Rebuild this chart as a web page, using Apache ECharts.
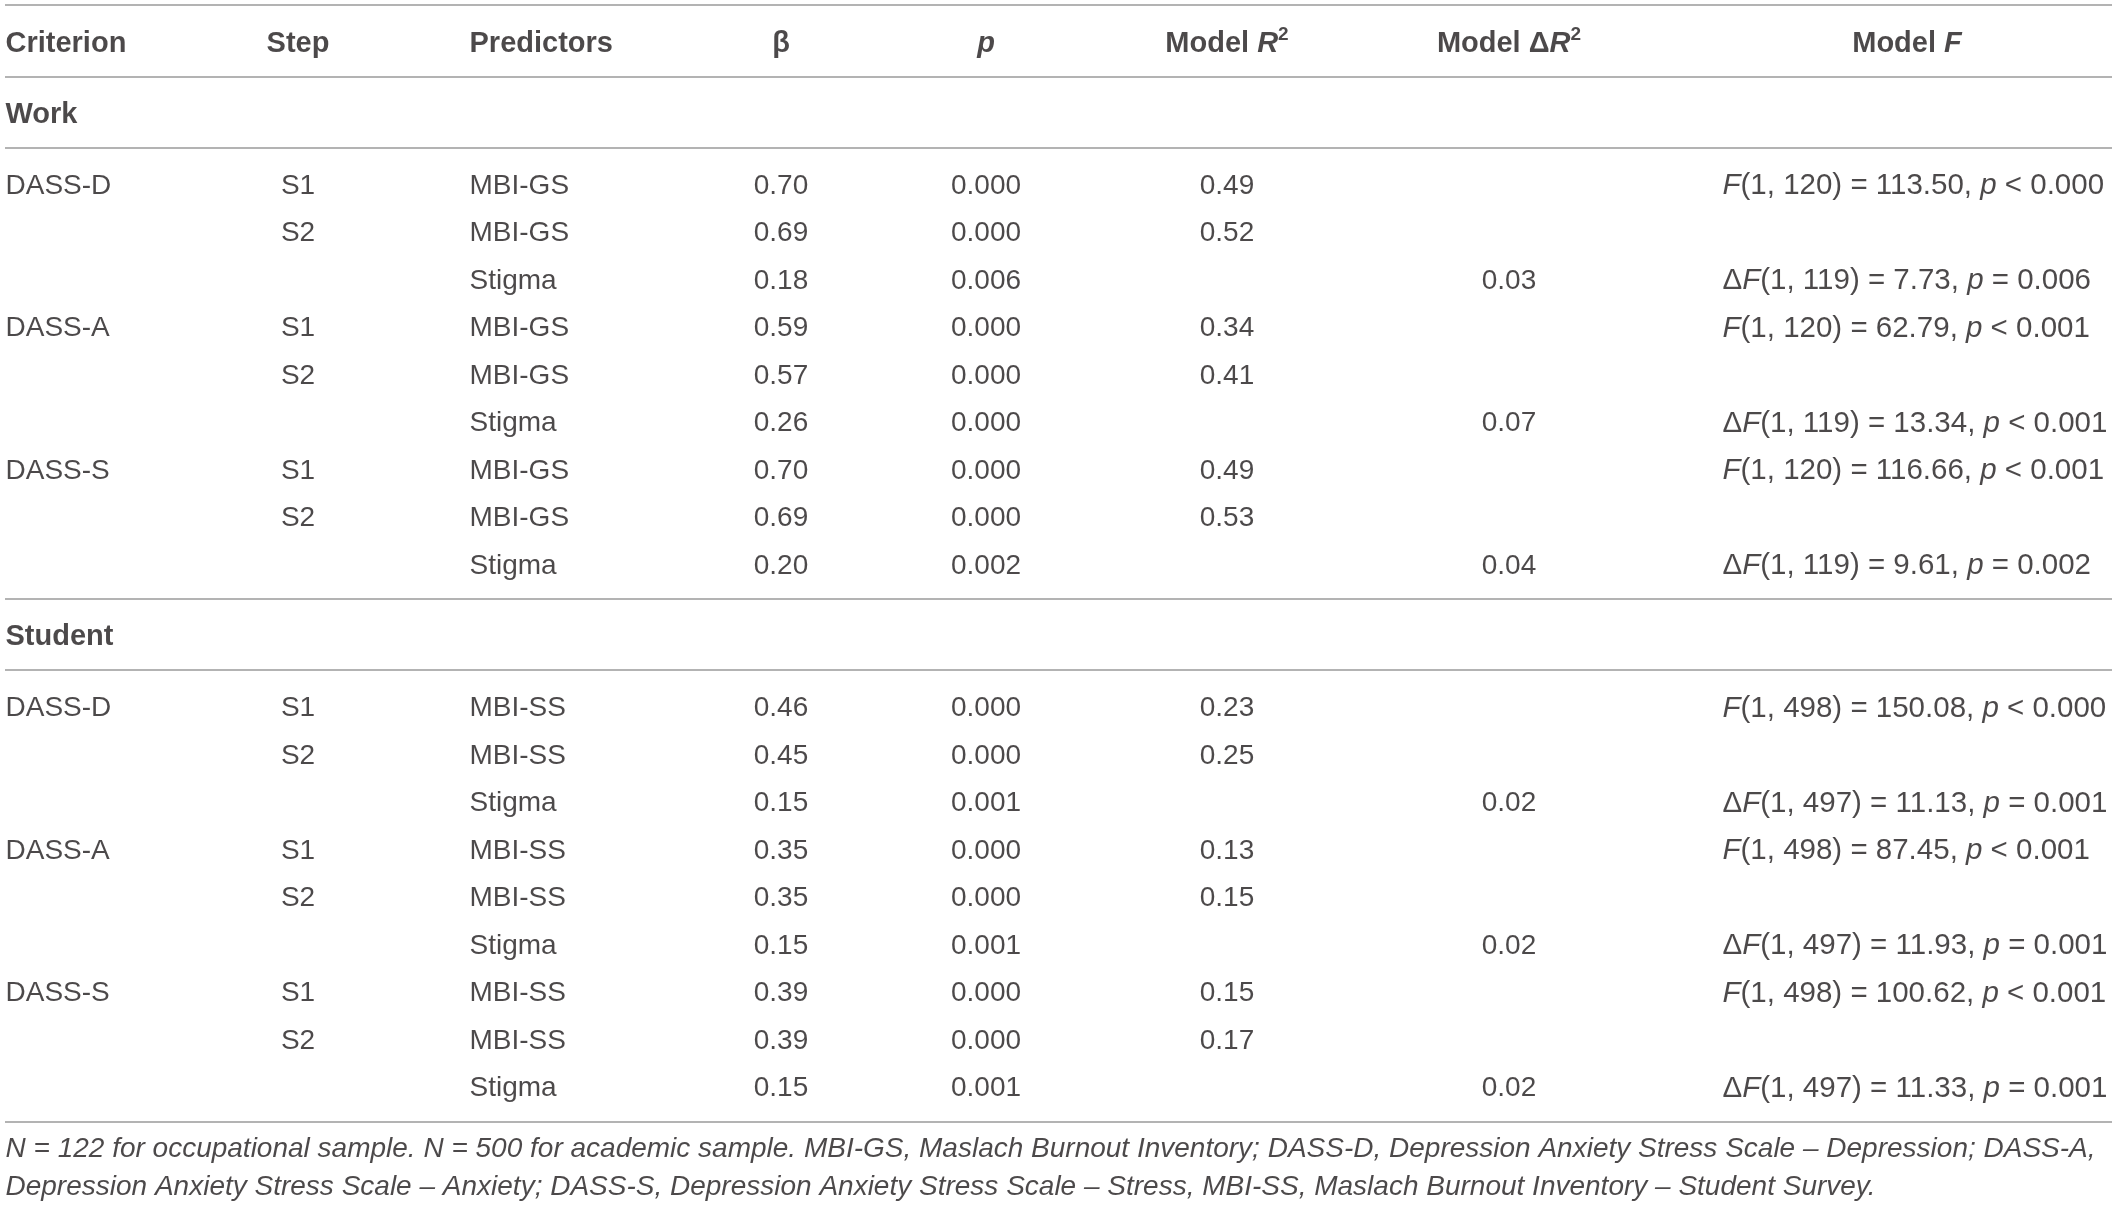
<!DOCTYPE html>
<html>
<head>
<meta charset="utf-8">
<script src="https://cdn.jsdelivr.net/npm/echarts@6/dist/echarts.min.js"></script>
<style>
html,body{margin:0;padding:0;background:#fff;}
#chart{width:2117px;height:1205px;}
</style>
</head>
<body>
<div id="chart"></div>
<script>
// ---------------- DATA ----------------
const headers = ['Criterion', 'Step', 'Predictors', 'β', 'p', 'Model R2', 'Model ΔR2', 'Model F'];
const groups = ['Work', 'Student'];

const workCriterion = ['DASS-D', '', '', 'DASS-A', '', '', 'DASS-S', '', ''];
const workStep = ['S1', 'S2', '', 'S1', 'S2', '', 'S1', 'S2', ''];
const workPredictor = ['MBI-GS', 'MBI-GS', 'Stigma', 'MBI-GS', 'MBI-GS', 'Stigma', 'MBI-GS', 'MBI-GS', 'Stigma'];
const workBeta = [0.70, 0.69, 0.18, 0.59, 0.57, 0.26, 0.70, 0.69, 0.20];
const workP = [0.000, 0.000, 0.006, 0.000, 0.000, 0.000, 0.000, 0.000, 0.002];
const workR2 = [0.49, 0.52, null, 0.34, 0.41, null, 0.49, 0.53, null];
const workDeltaR2 = [null, null, 0.03, null, null, 0.07, null, null, 0.04];
const workF = [
  'F(1, 120) = 113.50, p < 0.000', '', 'ΔF(1, 119) = 7.73, p = 0.006',
  'F(1, 120) = 62.79, p < 0.001', '', 'ΔF(1, 119) = 13.34, p < 0.001',
  'F(1, 120) = 116.66, p < 0.001', '', 'ΔF(1, 119) = 9.61, p = 0.002'
];

const studentCriterion = ['DASS-D', '', '', 'DASS-A', '', '', 'DASS-S', '', ''];
const studentStep = ['S1', 'S2', '', 'S1', 'S2', '', 'S1', 'S2', ''];
const studentPredictor = ['MBI-SS', 'MBI-SS', 'Stigma', 'MBI-SS', 'MBI-SS', 'Stigma', 'MBI-SS', 'MBI-SS', 'Stigma'];
const studentBeta = [0.46, 0.45, 0.15, 0.35, 0.35, 0.15, 0.39, 0.39, 0.15];
const studentP = [0.000, 0.000, 0.001, 0.000, 0.000, 0.001, 0.000, 0.000, 0.001];
const studentR2 = [0.23, 0.25, null, 0.13, 0.15, null, 0.15, 0.17, null];
const studentDeltaR2 = [null, null, 0.02, null, null, 0.02, null, null, 0.02];
const studentF = [
  'F(1, 498) = 150.08, p < 0.000', '', 'ΔF(1, 497) = 11.13, p = 0.001',
  'F(1, 498) = 87.45, p < 0.001', '', 'ΔF(1, 497) = 11.93, p = 0.001',
  'F(1, 498) = 100.62, p < 0.001', '', 'ΔF(1, 497) = 11.33, p = 0.001'
];

const footnoteLines = [
  'N = 122 for occupational sample. N = 500 for academic sample. MBI-GS, Maslach Burnout Inventory; DASS-D, Depression Anxiety Stress Scale – Depression; DASS-A,',
  'Depression Anxiety Stress Scale – Anxiety; DASS-S, Depression Anxiety Stress Scale – Stress, MBI-SS, Maslach Burnout Inventory – Student Survey.'
];

// ---------------- LAYOUT ----------------
const COL = { crit: 0, step: 293, pred: 464, beta: 776, p: 981, r2: 1222, dr2: 1504, fHead: 1902, f: 1717 };
const HALF_GAP = 0.75;
const TEXT = '#1f1c1d';
const RULE = '#b3b3b3';
const FONT = '"Liberation Sans", Arial, Helvetica, sans-serif';
const TEXT_SHIFT = 3;

const groupData = [
  { name: groups[0], crit: workCriterion, step: workStep, pred: workPredictor, beta: workBeta, p: workP, r2: workR2, dr2: workDeltaR2, f: workF },
  { name: groups[1], crit: studentCriterion, step: studentStep, pred: studentPredictor, beta: studentBeta, p: studentP, r2: studentR2, dr2: studentDeltaR2, f: studentF }
];

// y positions (row units) derived from the table structure
const rules = [];
let y = 0;
rules.push(y);
y += HALF_GAP;
const headerY = y;
y += HALF_GAP; rules.push(y);
const groupRows = [];
groupData.forEach(g => {
  y += HALF_GAP;
  const gy = y;
  y += HALF_GAP; rules.push(y);
  y += HALF_GAP;
  const rowsY = [];
  for (let i = 0; i < g.crit.length; i++) { rowsY.push(y); if (i < g.crit.length - 1) y += 1; }
  y += HALF_GAP; rules.push(y);
  groupRows.push({ gy, rowsY });
});
const footY = [y + 0.53, y + 1.33];

// ---------------- SERIES DATA ----------------
const sLeftBody = [], sCenterBody = [], sFBody = [], sBold = [], sHeadCenter = [], sFoot = [];
sBold.push([COL.crit, headerY, '{b|' + headers[0] + '}']);
sHeadCenter.push([COL.step, headerY, '{b|' + headers[1] + '}']);
sBold.push([COL.pred, headerY, '{b|' + headers[2] + '}']);
sHeadCenter.push([COL.beta, headerY, '{b|' + headers[3] + '}']);
sHeadCenter.push([COL.p, headerY, '{bi|' + headers[4] + '}']);
sHeadCenter.push([COL.r2, headerY, '{b|Model }{bi|R}{sup|2}']);
sHeadCenter.push([COL.dr2, headerY, '{b|Model Δ}{bi|R}{sup|2}']);
sHeadCenter.push([COL.fHead, headerY, '{b|Model }{bi|F}']);

function richF(s) {
  const m = s.match(/^(Δ?)F(.*), p (.*)$/);
  return (m[1] ? '{n|Δ}' : '') + '{i|F}{n|' + m[2] + ', }{i|p}{n| ' + m[3] + '}';
}

groupData.forEach((g, gi) => {
  const gr = groupRows[gi];
  sBold.push([COL.crit, gr.gy, '{b|' + g.name + '}']);
  g.crit.forEach((c, i) => {
    const ry = gr.rowsY[i];
    if (c) sLeftBody.push([COL.crit, ry, c]);
    if (g.step[i]) sCenterBody.push([COL.step, ry, g.step[i]]);
    sLeftBody.push([COL.pred, ry, g.pred[i]]);
    sCenterBody.push([COL.beta, ry, g.beta[i].toFixed(2)]);
    sCenterBody.push([COL.p, ry, g.p[i].toFixed(3)]);
    if (g.r2[i] !== null) sCenterBody.push([COL.r2, ry, g.r2[i].toFixed(2)]);
    if (g.dr2[i] !== null) sCenterBody.push([COL.dr2, ry, g.dr2[i].toFixed(2)]);
    if (g.f[i]) sFBody.push([COL.f, ry, richF(g.f[i])]);
  });
});
footnoteLines.forEach((t, i) => sFoot.push([0, footY[i], t]));

const HB = 29, FB = 29.5;
const rich = {
  b: { fontFamily: FONT, fontSize: HB, fontWeight: 'bold', color: TEXT, lineHeight: 36, verticalAlign: 'middle' },
  bi: { fontFamily: FONT, fontSize: HB, fontWeight: 'bold', fontStyle: 'italic', color: TEXT, lineHeight: 36, verticalAlign: 'middle' },
  sup: { fontFamily: FONT, fontSize: 19, fontWeight: 'bold', color: TEXT, lineHeight: 36, verticalAlign: 'top', padding: [0, 0, 12, 0] },
  n: { fontFamily: FONT, fontSize: FB, color: TEXT, lineHeight: 36 },
  i: { fontFamily: FONT, fontSize: FB, fontStyle: 'italic', color: TEXT, lineHeight: 36 }
};

function textSeries(name, data, position, labelExtra) {
  return {
    name, type: 'scatter', data, symbolSize: 1, silent: true,
    itemStyle: { color: 'rgba(0,0,0,0)' },
    label: Object.assign({
      show: true, position, distance: 0, offset: [0, TEXT_SHIFT],
      formatter: p => p.data[2],
      fontFamily: FONT, fontSize: 28, color: TEXT, rich
    }, labelExtra || {})
  };
}

const chart = echarts.init(document.getElementById('chart'), null, { renderer: 'canvas' });
chart.setOption({
  backgroundColor: '#ffffff',
  animation: false,
  grid: { left: 5, right: 5, top: 5, bottom: 0 },
  xAxis: { type: 'value', min: 0, max: 2107, show: false },
  yAxis: { type: 'value', inverse: true, min: 0, max: 1200 / 47.5, show: false },
  series: [
    {
      name: 'rules', type: 'line', data: [], silent: true,
      markLine: {
        symbol: ['none', 'none'], silent: true, label: { show: false },
        lineStyle: { color: RULE, width: 2, type: 'solid' },
        data: rules.map(v => ({ yAxis: v }))
      }
    },
    textSeries('leftBody', sLeftBody, 'right'),
    textSeries('centerBody', sCenterBody, 'inside'),
    textSeries('fBody', sFBody, 'right'),
    textSeries('headLeft', sBold, 'right'),
    textSeries('headCenter', sHeadCenter, 'inside'),
    textSeries('footnote', sFoot, 'right', { fontSize: 28, fontStyle: 'italic', rich: {} })
  ]
});
</script>
</body>
</html>
